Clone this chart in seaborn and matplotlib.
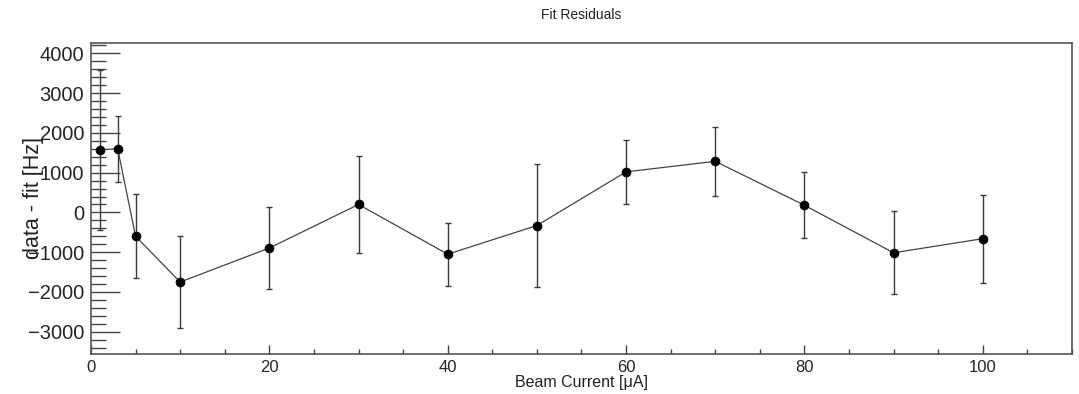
import numpy as np
import pandas as pd
import seaborn as sns
import matplotlib.pyplot as plt
from matplotlib.ticker import MultipleLocator

# Beam current scan, residuals of the fit
current = [1, 3, 5, 10, 20, 30, 40, 50, 60, 70, 80, 90, 100]
residual = [1575, 1600, -600, -1750, -895, 200, -1050, -330, 1020, 1285, 180, -1015, -660]
residual_err = [2015, 830, 1055, 1165, 1040, 1220, 790, 1545, 805, 870, 830, 1045, 1105]

df = pd.DataFrame({'current': current, 'residual': residual, 'err': residual_err})

sns.set_style('white')
plt.rcParams['font.family'] = ['Liberation Sans', 'DejaVu Sans']

fig = plt.figure(figsize=(10.79, 3.94), dpi=100)
ax = fig.add_axes([0.0843, 0.1015, 0.9092, 0.7894])

# error bars first, then the line with markers on top
ax.errorbar(df['current'], df['residual'], yerr=df['err'], fmt='none',
            ecolor='#3a3a3a', elinewidth=1.0, capsize=2, capthick=1.0, zorder=2)
sns.lineplot(x='current', y='residual', data=df, ax=ax, color='#444444',
             linewidth=0.9, marker='o', markersize=6.2, markerfacecolor='black',
             markeredgecolor='black', zorder=3)

ax.set_xlim(0, 110)
ax.set_ylim(-3560, 4260)
ax.xaxis.set_major_locator(MultipleLocator(20))
ax.xaxis.set_minor_locator(MultipleLocator(5))
ax.yaxis.set_major_locator(MultipleLocator(1000))
ax.yaxis.set_minor_locator(MultipleLocator(200))

# ROOT-style ticks: inside, left and bottom only
ax.tick_params(axis='both', which='both', bottom=True, left=True, top=False, right=False)
ax.tick_params(axis='x', which='major', direction='in', length=6.7, width=1,
               color='#444444', labelsize=12, pad=4)
ax.tick_params(axis='x', which='minor', direction='in', length=3.4, width=1,
               color='#444444')
ax.tick_params(axis='y', which='major', direction='in', length=21, width=1,
               color='#444444', labelsize=14.5, pad=5)
ax.tick_params(axis='y', which='minor', direction='in', length=10.8, width=1,
               color='#444444')

for s in ax.spines.values():
    s.set_color('#555555')
    s.set_linewidth(1.2)

ax.set_xlabel('Beam Current [\u03bcA]', fontsize=11.5, color='#222222')
ax.xaxis.set_label_coords(0.5, -0.068)
ax.set_ylabel('data - fit [Hz]', fontsize=15.5, color='#222222')
ax.yaxis.set_label_coords(-0.059, 0.5)
ax.yaxis.label.set_va('center')

fig.text(0.539, 0.962, 'Fit Residuals', ha='center', va='center', fontsize=10,
         color='#222222')

fig.savefig('out.png', dpi=100)
